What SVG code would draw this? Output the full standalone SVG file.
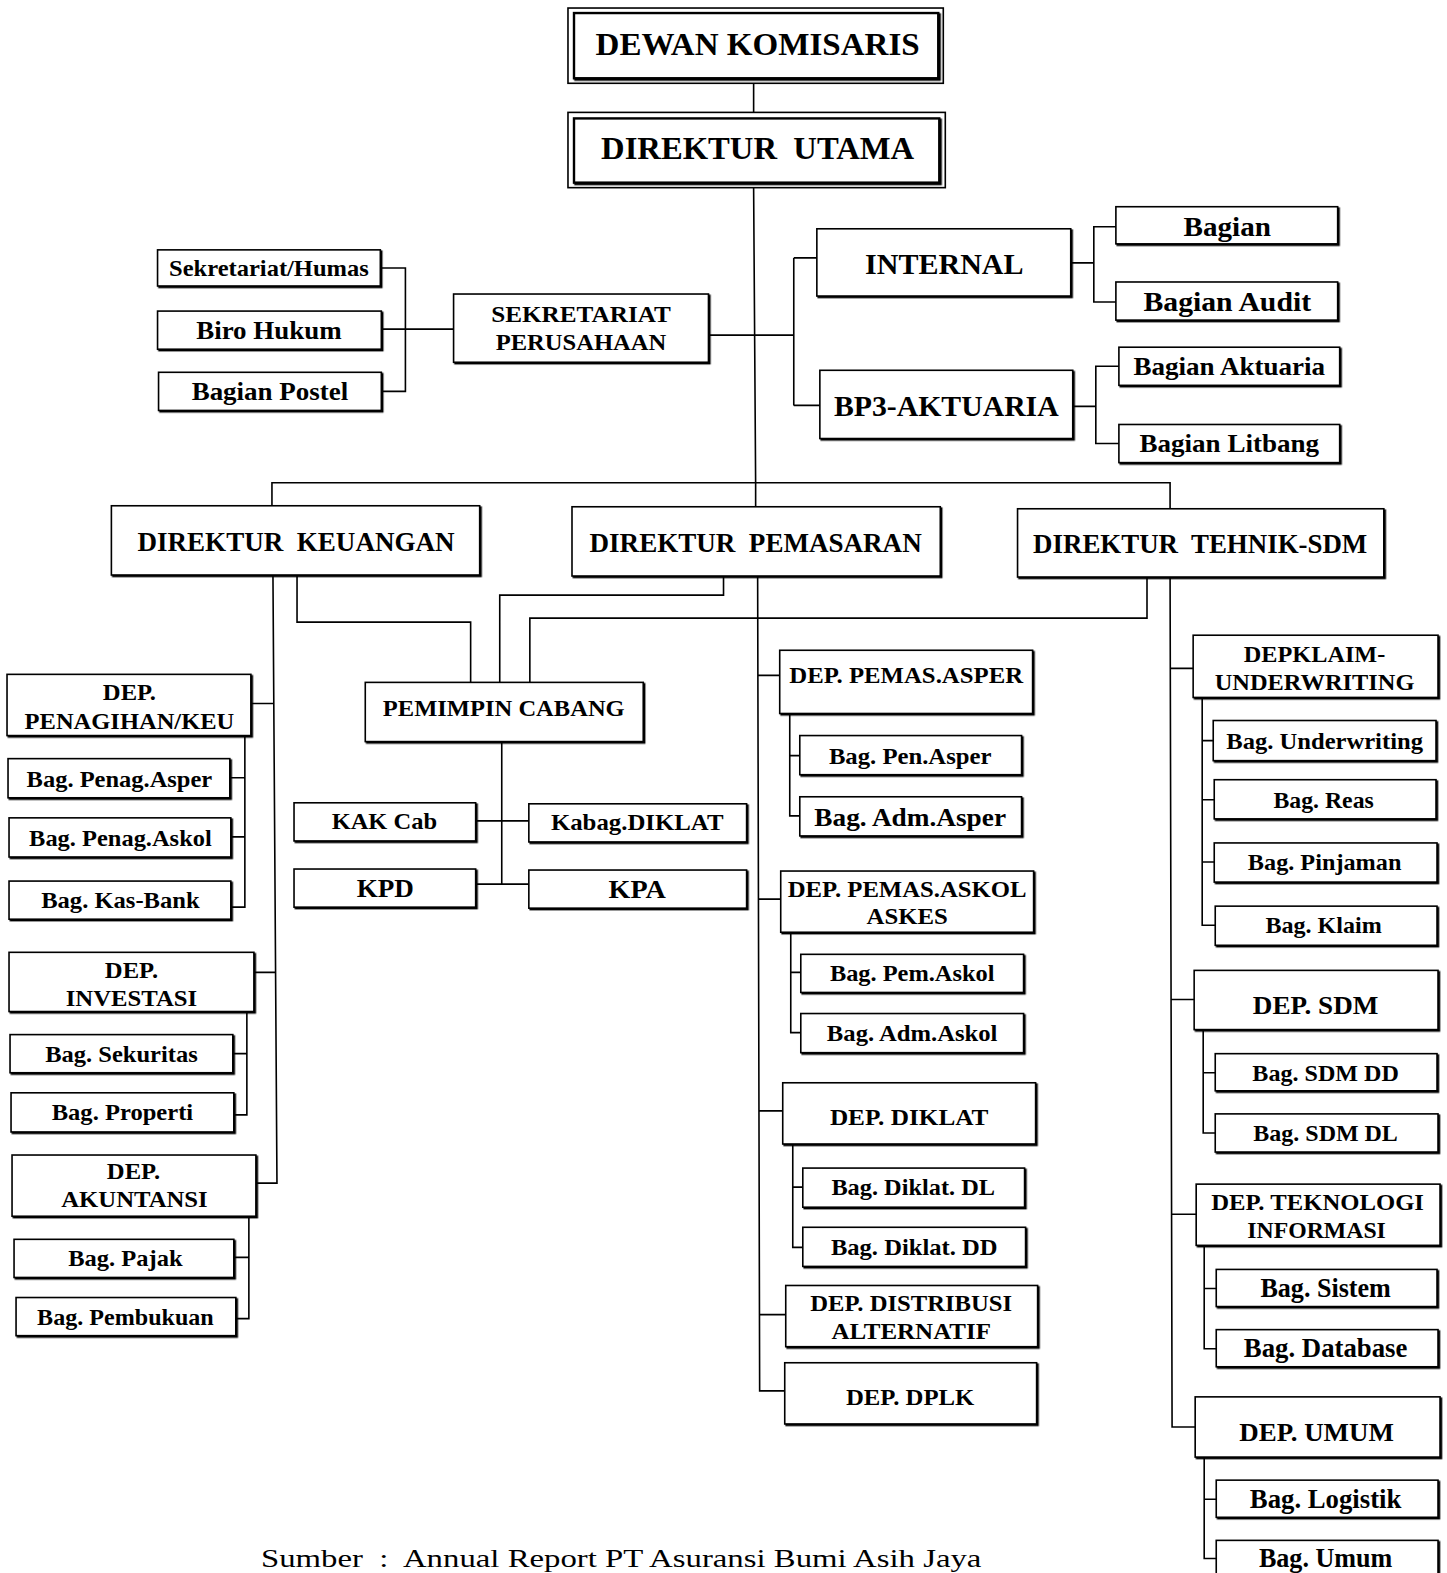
<svg xmlns="http://www.w3.org/2000/svg" width="1447" height="1573" viewBox="0 0 1447 1573">
<defs>
<filter id="sh" x="-5%" y="-10%" width="115%" height="130%"><feDropShadow dx="1.4" dy="1.4" stdDeviation="0" flood-color="#000"/></filter>
<style>
.b{fill:#fff;stroke:#000;stroke-width:1.6;filter:url(#sh)}
.o{fill:none;stroke:#000;stroke-width:1.6}
.t{font-family:"Liberation Serif","Times New Roman",serif;font-weight:bold;fill:#000;text-anchor:middle}
.c{fill:none;stroke:#000;stroke-width:1.6}
.f{font-family:"Liberation Serif","Times New Roman",serif;fill:#000;font-size:26px}
</style>
</defs>
<rect width="1447" height="1573" fill="#fff"/>
<g transform="scale(1.0035)">
<g id="connectors">
<path class="c" d="M751,83V112M751,187L753,481M271,504V481H1166V507M753,481V505"/>
<path class="c" d="M706,334H791M791,257V404M791,257H814M791,404H817"/>
<path class="c" d="M452,328H404M379,267H404V390H380M380,328H404"/>
<path class="c" d="M1067,262H1090M1112,226H1090V301H1112"/>
<path class="c" d="M1069,405H1092M1115,365H1092V442H1115"/>
<path class="c" d="M272,573L276,1179H255M250,701H273M253,969H275"/>
<path class="c" d="M296,573V620H469V680M721,574V593H498V680M1143,575V616H528V680"/>
<path class="c" d="M500,739V881M474,818H527M474,881H527"/>
<path class="c" d="M755,574L757,1386H782M755,673H777M756,896H778M756,1107H780M757,1310H783"/>
<path class="c" d="M787,711V813H797M787,753H797M788,929V1029H798M788,969H798M790,1140V1243H800M790,1183H800"/>
<path class="c" d="M1166,575L1168,1422H1191M1166,666H1189M1167,996H1190M1167,1210H1192"/>
<path class="c" d="M1198,695V922H1211M1198,738H1209M1198,797H1210M1198,859H1210M1199,1026V1129H1211M1199,1069H1211M1200,1241V1344H1212M1200,1284H1212M1200,1452V1553H1212M1200,1494H1212"/>
<path class="c" d="M244,733V904H230M229,775H244M230,834H244M246,1008V1111H233M232,1050H246M248,1212V1314H235M233,1253H248"/>
</g>
<g id="dk"><rect class="o" x="566" y="8" width="374" height="75"/><rect class="b" x="572" y="13" width="363" height="65" style="stroke-width:2.4"/><text class="t" x="755" y="55" font-size="32" textLength="323" lengthAdjust="spacingAndGlyphs">DEWAN KOMISARIS</text></g>
<g id="du"><rect class="o" x="566" y="112" width="376" height="75"/><rect class="b" x="572" y="118" width="364" height="64" style="stroke-width:2.4"/><text class="t" x="755" y="158" font-size="32" textLength="312" lengthAdjust="spacingAndGlyphs" xml:space="preserve">DIREKTUR  UTAMA</text></g>
<g id="sekhumas"><rect class="b" x="157" y="249" width="222" height="36"/><text class="t" x="268" y="275" font-size="23" textLength="199" lengthAdjust="spacingAndGlyphs">Sekretariat/Humas</text></g>
<g id="birohukum"><rect class="b" x="157" y="310" width="223" height="38"/><text class="t" x="268" y="338" font-size="26" textLength="145" lengthAdjust="spacingAndGlyphs">Biro Hukum</text></g>
<g id="postel"><rect class="b" x="158" y="371" width="222" height="38"/><text class="t" x="269" y="399" font-size="26" textLength="156" lengthAdjust="spacingAndGlyphs">Bagian Postel</text></g>
<g id="sekper"><rect class="b" x="452" y="293" width="254" height="68"/><text class="t" x="579" y="321" font-size="24" textLength="179" lengthAdjust="spacingAndGlyphs">SEKRETARIAT</text><text class="t" x="579" y="349" font-size="24" textLength="170" lengthAdjust="spacingAndGlyphs">PERUSAHAAN</text></g>
<g id="internal"><rect class="b" x="814" y="228" width="253" height="67"/><text class="t" x="941" y="273" font-size="29" textLength="158" lengthAdjust="spacingAndGlyphs">INTERNAL</text></g>
<g id="bagian"><rect class="b" x="1112" y="206" width="221" height="37"/><text class="t" x="1223" y="235" font-size="27" textLength="87" lengthAdjust="spacingAndGlyphs">Bagian</text></g>
<g id="audit"><rect class="b" x="1112" y="281" width="221" height="38"/><text class="t" x="1223" y="310" font-size="27" textLength="167" lengthAdjust="spacingAndGlyphs">Bagian Audit</text></g>
<g id="bp3"><rect class="b" x="817" y="369" width="252" height="68"/><text class="t" x="943" y="415" font-size="29" textLength="224" lengthAdjust="spacingAndGlyphs">BP3-AKTUARIA</text></g>
<g id="aktuaria"><rect class="b" x="1115" y="346" width="220" height="38"/><text class="t" x="1225" y="374" font-size="25" textLength="191" lengthAdjust="spacingAndGlyphs">Bagian Aktuaria</text></g>
<g id="litbang"><rect class="b" x="1115" y="423" width="220" height="38"/><text class="t" x="1225" y="450" font-size="25" textLength="179" lengthAdjust="spacingAndGlyphs">Bagian Litbang</text></g>
<g id="dirkeu"><rect class="b" x="111" y="504" width="367" height="69"/><text class="t" x="295" y="549" font-size="27" textLength="316" lengthAdjust="spacingAndGlyphs" xml:space="preserve">DIREKTUR  KEUANGAN</text></g>
<g id="dirpem"><rect class="b" x="570" y="505" width="367" height="69"/><text class="t" x="753" y="550" font-size="27" textLength="331" lengthAdjust="spacingAndGlyphs" xml:space="preserve">DIREKTUR  PEMASARAN</text></g>
<g id="dirtek"><rect class="b" x="1014" y="507" width="365" height="68"/><text class="t" x="1196" y="551" font-size="27" textLength="333" lengthAdjust="spacingAndGlyphs" xml:space="preserve">DIREKTUR  TEHNIK-SDM</text></g>
<g id="deppenag"><rect class="b" x="7" y="672" width="243" height="61"/><text class="t" x="129" y="698" font-size="23" textLength="53" lengthAdjust="spacingAndGlyphs">DEP.</text><text class="t" x="129" y="726" font-size="23" textLength="209" lengthAdjust="spacingAndGlyphs">PENAGIHAN/KEU</text></g>
<g id="penagasper"><rect class="b" x="8" y="756" width="221" height="39"/><text class="t" x="119" y="784" font-size="23" textLength="185" lengthAdjust="spacingAndGlyphs">Bag. Penag.Asper</text></g>
<g id="penagaskol"><rect class="b" x="9" y="815" width="221" height="39"/><text class="t" x="120" y="843" font-size="23" textLength="182" lengthAdjust="spacingAndGlyphs">Bag. Penag.Askol</text></g>
<g id="kasbank"><rect class="b" x="9" y="878" width="221" height="38"/><text class="t" x="120" y="905" font-size="23" textLength="158" lengthAdjust="spacingAndGlyphs">Bag. Kas-Bank</text></g>
<g id="depinv"><rect class="b" x="9" y="949" width="244" height="59"/><text class="t" x="131" y="975" font-size="23" textLength="53" lengthAdjust="spacingAndGlyphs">DEP.</text><text class="t" x="131" y="1002" font-size="23" textLength="131" lengthAdjust="spacingAndGlyphs">INVESTASI</text></g>
<g id="sekuritas"><rect class="b" x="10" y="1031" width="222" height="38"/><text class="t" x="121" y="1058" font-size="23" textLength="152" lengthAdjust="spacingAndGlyphs">Bag. Sekuritas</text></g>
<g id="properti"><rect class="b" x="11" y="1089" width="222" height="39"/><text class="t" x="122" y="1116" font-size="23" textLength="141" lengthAdjust="spacingAndGlyphs">Bag. Properti</text></g>
<g id="depakun"><rect class="b" x="12" y="1151" width="243" height="61"/><text class="t" x="133" y="1175" font-size="23" textLength="53" lengthAdjust="spacingAndGlyphs">DEP.</text><text class="t" x="134" y="1203" font-size="23" textLength="146" lengthAdjust="spacingAndGlyphs">AKUNTANSI</text></g>
<g id="pajak"><rect class="b" x="14" y="1235" width="219" height="38"/><text class="t" x="125" y="1262" font-size="24" textLength="114" lengthAdjust="spacingAndGlyphs">Bag. Pajak</text></g>
<g id="pembukuan"><rect class="b" x="16" y="1293" width="219" height="38"/><text class="t" x="125" y="1320" font-size="23" textLength="176" lengthAdjust="spacingAndGlyphs">Bag. Pembukuan</text></g>
<g id="pemimpin"><rect class="b" x="364" y="680" width="277" height="59"/><text class="t" x="502" y="714" font-size="23" textLength="241" lengthAdjust="spacingAndGlyphs">PEMIMPIN CABANG</text></g>
<g id="kakcab"><rect class="b" x="293" y="800" width="181" height="38"/><text class="t" x="383" y="826" font-size="23" textLength="105" lengthAdjust="spacingAndGlyphs">KAK Cab</text></g>
<g id="kabagdiklat"><rect class="b" x="527" y="801" width="217" height="38"/><text class="t" x="635" y="827" font-size="23" textLength="172" lengthAdjust="spacingAndGlyphs">Kabag.DIKLAT</text></g>
<g id="kpd"><rect class="b" x="293" y="866" width="181" height="38"/><text class="t" x="384" y="894" font-size="26" textLength="57" lengthAdjust="spacingAndGlyphs">KPD</text></g>
<g id="kpa"><rect class="b" x="527" y="867" width="217" height="38"/><text class="t" x="635" y="895" font-size="26" textLength="57" lengthAdjust="spacingAndGlyphs">KPA</text></g>
<g id="deppemasasper"><rect class="b" x="777" y="648" width="252" height="63"/><text class="t" x="903" y="681" font-size="23" textLength="233" lengthAdjust="spacingAndGlyphs">DEP. PEMAS.ASPER</text></g>
<g id="penasper"><rect class="b" x="797" y="733" width="221" height="39"/><text class="t" x="907" y="761" font-size="23" textLength="162" lengthAdjust="spacingAndGlyphs">Bag. Pen.Asper</text></g>
<g id="admasper"><rect class="b" x="797" y="794" width="221" height="39"/><text class="t" x="907" y="823" font-size="26" textLength="191" lengthAdjust="spacingAndGlyphs">Bag. Adm.Asper</text></g>
<g id="deppemasaskol"><rect class="b" x="778" y="868" width="252" height="61"/><text class="t" x="904" y="894" font-size="24" textLength="238" lengthAdjust="spacingAndGlyphs">DEP. PEMAS.ASKOL</text><text class="t" x="904" y="921" font-size="24" textLength="81" lengthAdjust="spacingAndGlyphs">ASKES</text></g>
<g id="pemaskol"><rect class="b" x="798" y="951" width="222" height="38"/><text class="t" x="909" y="978" font-size="23" textLength="164" lengthAdjust="spacingAndGlyphs">Bag. Pem.Askol</text></g>
<g id="admaskol"><rect class="b" x="798" y="1010" width="222" height="39"/><text class="t" x="909" y="1037" font-size="23" textLength="170" lengthAdjust="spacingAndGlyphs">Bag. Adm.Askol</text></g>
<g id="depdiklat"><rect class="b" x="780" y="1079" width="252" height="61"/><text class="t" x="906" y="1121" font-size="24" textLength="158" lengthAdjust="spacingAndGlyphs">DEP. DIKLAT</text></g>
<g id="diklatdl"><rect class="b" x="800" y="1164" width="221" height="39"/><text class="t" x="910" y="1191" font-size="23" textLength="163" lengthAdjust="spacingAndGlyphs">Bag. Diklat. DL</text></g>
<g id="diklatdd"><rect class="b" x="800" y="1223" width="222" height="39"/><text class="t" x="911" y="1251" font-size="23" textLength="166" lengthAdjust="spacingAndGlyphs">Bag. Diklat. DD</text></g>
<g id="depdist"><rect class="b" x="783" y="1281" width="251" height="61"/><text class="t" x="908" y="1306" font-size="24" textLength="201" lengthAdjust="spacingAndGlyphs">DEP. DISTRIBUSI</text><text class="t" x="908" y="1334" font-size="24" textLength="159" lengthAdjust="spacingAndGlyphs">ALTERNATIF</text></g>
<g id="depdplk"><rect class="b" x="782" y="1358" width="251" height="61"/><text class="t" x="907" y="1400" font-size="24" textLength="128" lengthAdjust="spacingAndGlyphs">DEP. DPLK</text></g>
<g id="depklaim"><rect class="b" x="1189" y="633" width="244" height="62"/><text class="t" x="1310" y="660" font-size="23" textLength="141" lengthAdjust="spacingAndGlyphs">DEPKLAIM-</text><text class="t" x="1310" y="688" font-size="23" textLength="199" lengthAdjust="spacingAndGlyphs">UNDERWRITING</text></g>
<g id="underwriting"><rect class="b" x="1209" y="718" width="222" height="40"/><text class="t" x="1320" y="746" font-size="23" textLength="196" lengthAdjust="spacingAndGlyphs">Bag. Underwriting</text></g>
<g id="reas"><rect class="b" x="1210" y="777" width="221" height="39"/><text class="t" x="1319" y="805" font-size="23" textLength="100" lengthAdjust="spacingAndGlyphs">Bag. Reas</text></g>
<g id="pinjaman"><rect class="b" x="1210" y="840" width="222" height="39"/><text class="t" x="1320" y="867" font-size="23" textLength="153" lengthAdjust="spacingAndGlyphs">Bag. Pinjaman</text></g>
<g id="klaim"><rect class="b" x="1211" y="903" width="221" height="39"/><text class="t" x="1319" y="930" font-size="23" textLength="116" lengthAdjust="spacingAndGlyphs">Bag. Klaim</text></g>
<g id="depsdm"><rect class="b" x="1190" y="967" width="243" height="59"/><text class="t" x="1311" y="1010" font-size="26" textLength="125" lengthAdjust="spacingAndGlyphs">DEP. SDM</text></g>
<g id="sdmdd"><rect class="b" x="1211" y="1050" width="221" height="37"/><text class="t" x="1321" y="1077" font-size="23" textLength="146" lengthAdjust="spacingAndGlyphs">Bag. SDM DD</text></g>
<g id="sdmdl"><rect class="b" x="1211" y="1110" width="222" height="38"/><text class="t" x="1321" y="1137" font-size="23" textLength="144" lengthAdjust="spacingAndGlyphs">Bag. SDM DL</text></g>
<g id="depti"><rect class="b" x="1192" y="1180" width="243" height="61"/><text class="t" x="1313" y="1206" font-size="24" textLength="212" lengthAdjust="spacingAndGlyphs">DEP. TEKNOLOGI</text><text class="t" x="1312" y="1234" font-size="24" textLength="138" lengthAdjust="spacingAndGlyphs">INFORMASI</text></g>
<g id="sistem"><rect class="b" x="1212" y="1265" width="220" height="37"/><text class="t" x="1321" y="1292" font-size="27" textLength="130" lengthAdjust="spacingAndGlyphs">Bag. Sistem</text></g>
<g id="database"><rect class="b" x="1212" y="1325" width="221" height="37"/><text class="t" x="1321" y="1352" font-size="27" textLength="163" lengthAdjust="spacingAndGlyphs">Bag. Database</text></g>
<g id="depumum"><rect class="b" x="1191" y="1392" width="244" height="60"/><text class="t" x="1312" y="1436" font-size="26" textLength="154" lengthAdjust="spacingAndGlyphs">DEP. UMUM</text></g>
<g id="logistik"><rect class="b" x="1212" y="1475" width="221" height="37"/><text class="t" x="1321" y="1503" font-size="27" textLength="151" lengthAdjust="spacingAndGlyphs">Bag. Logistik</text></g>
<g id="bagumum"><rect class="b" x="1212" y="1535" width="221" height="45"/><text class="t" x="1321" y="1562" font-size="27" textLength="133" lengthAdjust="spacingAndGlyphs">Bag. Umum</text></g>
<text class="f" x="260" y="1562" textLength="718" lengthAdjust="spacingAndGlyphs" xml:space="preserve">Sumber  :  Annual Report PT Asuransi Bumi Asih Jaya</text>
</g>
</svg>
